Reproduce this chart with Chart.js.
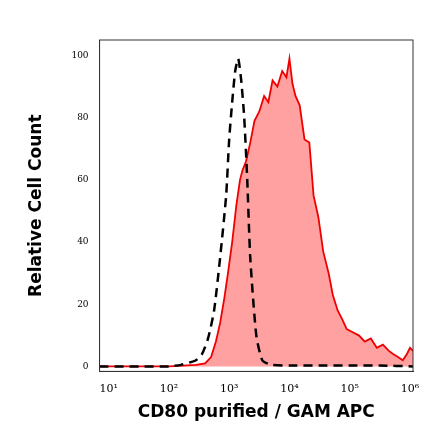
<!DOCTYPE html>
<html><head><meta charset="utf-8">
<script src="https://cdn.jsdelivr.net/npm/chart.js@4.4.1/dist/chart.umd.min.js"></script>
<style>html,body{margin:0;padding:0;background:#fff}#w{width:440px;height:441px}</style>
</head><body><div id="w"><canvas id="c"></canvas></div>
<script>
// x values are log10 of fluorescence intensity
const redX = [0.85,2.0,2.45,2.6,2.7,2.78,2.85,2.92,2.98,3.05,3.12,3.18,3.22,3.28,3.35,3.42,3.5,3.58,3.65,3.72,3.8,3.88,3.95,4.0,4.05,4.1,4.17,4.25,4.33,4.4,4.48,4.56,4.65,4.72,4.8,4.88,4.95,5.05,5.15,5.25,5.35,5.45,5.55,5.65,5.72,5.8,5.88,5.95,6.0,6.05];
const redY = [0,0,0.5,1,3,8,14,22,30,40,52,60,63,66,72,79,82,87,85,92,90,95,93,99,91,87,84,73,72,55,48,37,30,23,18,15,12,11,10,8,9,6,7,5,4,3,2,4,6,5];
const blackX = [0.85,2.0,2.2,2.3,2.45,2.55,2.65,2.75,2.85,2.95,3.0,3.05,3.1,3.15,3.2,3.25,3.3,3.35,3.45,3.55,3.7,4.0,4.5,5.0,5.5,6.05];
const blackY = [0,0,0.5,1,2,4,9,18,35,55,73,85,95,99,92,80,60,35,10,2,0.5,0.3,0.3,0.3,0.3,0];
const xTicks = [1,2,3,4,5,6];
const yTicks = [0,20,40,60,80,100];
const sup = {'1':'¹','2':'²','3':'³','4':'⁴','5':'⁵','6':'⁶'};
const pts = (xs,ys)=>xs.map((x,i)=>({x,y:ys[i]}));
new Chart(document.getElementById('c'),{
 type:'line',
 data:{datasets:[
  {data:pts(blackX,blackY),borderColor:'#000',borderWidth:2.5,borderDash:[9,6],pointRadius:0,fill:false,tension:0.2},
  {data:pts(redX,redY),borderColor:'#ee0000',backgroundColor:'rgba(255,130,130,0.75)',borderWidth:1.8,pointRadius:0,fill:'origin',tension:0}
 ]},
 options:{animation:false,responsive:true,maintainAspectRatio:false,
  plugins:{legend:{display:false},tooltip:{enabled:false}},
  layout:{padding:{top:40,right:27,left:22,bottom:14}},
  scales:{
   x:{type:'linear',min:0.85,max:6.05,grid:{display:false},border:{color:'#333'},
    afterBuildTicks:a=>{a.ticks=xTicks.map(v=>({value:v}));},
    ticks:{color:'#000',font:{family:'DejaVu Serif',size:11},callback:v=>'10'+sup[String(v)],maxRotation:0},
    title:{display:true,text:'CD80 purified / GAM APC',color:'#000',font:{family:'DejaVu Sans',size:17,weight:'bold'}}},
   y:{min:-1.6,max:105,grid:{display:false},border:{color:'#333'},
    afterBuildTicks:a=>{a.ticks=yTicks.map(v=>({value:v}));},
    ticks:{color:'#000',font:{family:'DejaVu Serif',size:9}},
    title:{display:true,text:'Relative Cell Count',color:'#000',font:{family:'DejaVu Sans',size:17,weight:'bold'},padding:{bottom:22}}}
  }},
 plugins:[{id:'frame',afterDatasetsDraw(c){const a=c.chartArea,x=c.ctx;x.save();x.strokeStyle='#333';x.lineWidth=1;x.strokeRect(a.left,a.top,a.right-a.left,a.bottom-a.top);x.restore();}}]
});
</script></body></html>
